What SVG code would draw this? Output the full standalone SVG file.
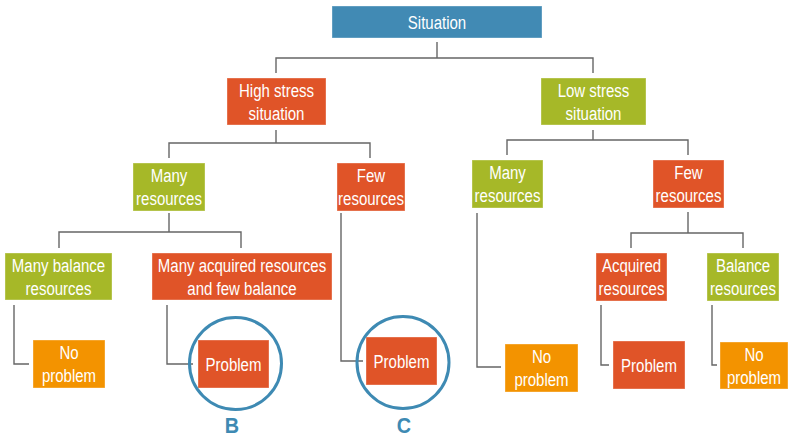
<svg xmlns="http://www.w3.org/2000/svg" width="788" height="437" viewBox="0 0 788 437">
<style>
text{font-family:"Liberation Sans",Arial,sans-serif;font-size:19px;fill:#ffffff;text-anchor:middle}
.blue{fill:#418ab4}
.red{fill:#e05428}
.green{fill:#a6b828}
.orange{fill:#f39300}
rect{stroke:#ffffff;stroke-opacity:0.35;stroke-width:1}
.conn path{fill:none;stroke:#666666;stroke-width:1.4}
.ring{fill:none;stroke:#3e8ab3;stroke-width:3}
text.lbl{fill:#3e8ab3;font-weight:bold;font-size:22px}
</style>
<g class="conn">
<path d="M437 42V58M276 73V58H593V73"/>
<path d="M276 130V143M169 158V143H370V158"/>
<path d="M593 130V140M507 155V140H688V155"/>
<path d="M169 213V232M59 248V232H241V248"/>
<path d="M14 305V364H29"/>
<path d="M167 305V364H193"/>
<path d="M341 213V361H363"/>
<path d="M477 213V367H501"/>
<path d="M688 212V233M631 248V233H743V248"/>
<path d="M601 305V365H609"/>
<path d="M712 305V365H717"/>
</g>
<g id="situation"><rect class="blue" x="332" y="6" width="210" height="32"/><text transform="translate(437 28.5) scale(0.79 1)">Situation</text></g>
<g id="high-stress"><rect class="red" x="227" y="78" width="99" height="47"/><text transform="translate(276.5 96.5) scale(0.79 1)">High stress</text><text transform="translate(276.5 119.5) scale(0.79 1)">situation</text></g>
<g id="low-stress"><rect class="green" x="541" y="78" width="105" height="47"/><text transform="translate(593.5 96.5) scale(0.79 1)">Low stress</text><text transform="translate(593.5 119.5) scale(0.79 1)">situation</text></g>
<g id="many-resources-left"><rect class="green" x="133" y="163" width="72" height="48"/><text transform="translate(169 181.5) scale(0.79 1)">Many</text><text transform="translate(169 204.5) scale(0.79 1)">resources</text></g>
<g id="few-resources-left"><rect class="red" x="337" y="163" width="68" height="48"/><text transform="translate(371 181.5) scale(0.79 1)">Few</text><text transform="translate(371 204.5) scale(0.79 1)">resources</text></g>
<g id="many-resources-right"><rect class="green" x="472" y="160" width="71" height="48"/><text transform="translate(507.5 178.5) scale(0.79 1)">Many</text><text transform="translate(507.5 201.5) scale(0.79 1)">resources</text></g>
<g id="few-resources-right"><rect class="red" x="653" y="160" width="71" height="48"/><text transform="translate(688.5 178.5) scale(0.79 1)">Few</text><text transform="translate(688.5 201.5) scale(0.79 1)">resources</text></g>
<g id="many-balance"><rect class="green" x="5" y="253" width="107" height="47"/><text transform="translate(58.5 271.5) scale(0.79 1)">Many balance</text><text transform="translate(58.5 294.5) scale(0.79 1)">resources</text></g>
<g id="many-acquired"><rect class="red" x="152" y="253" width="180" height="47"/><text transform="translate(242 271.5) scale(0.79 1)">Many acquired resources</text><text transform="translate(242 294.5) scale(0.79 1)">and few balance</text></g>
<g id="acquired"><rect class="red" x="596" y="253" width="71" height="48"/><text transform="translate(631.5 271.5) scale(0.79 1)">Acquired</text><text transform="translate(631.5 294.5) scale(0.79 1)">resources</text></g>
<g id="balance"><rect class="green" x="707" y="253" width="72" height="48"/><text transform="translate(743 271.5) scale(0.79 1)">Balance</text><text transform="translate(743 294.5) scale(0.79 1)">resources</text></g>
<g id="no-problem-1"><rect class="orange" x="33" y="340" width="72" height="48"/><text transform="translate(69 358.5) scale(0.79 1)">No</text><text transform="translate(69 381.5) scale(0.79 1)">problem</text></g>
<g id="problem-b"><rect class="red" x="198" y="340" width="71" height="48"/><text transform="translate(233.5 370.5) scale(0.79 1)">Problem</text><circle class="ring" cx="235.5" cy="363.5" r="46"/><text class="lbl" transform="translate(232 433) scale(0.9 1)">B</text></g>
<g id="problem-c"><rect class="red" x="366" y="337" width="71" height="48"/><text transform="translate(401.5 367.5) scale(0.79 1)">Problem</text><circle class="ring" cx="403" cy="362.5" r="46"/><text class="lbl" transform="translate(404 433) scale(0.9 1)">C</text></g>
<g id="no-problem-2"><rect class="orange" x="505" y="344" width="73" height="48"/><text transform="translate(541.5 362.5) scale(0.79 1)">No</text><text transform="translate(541.5 385.5) scale(0.79 1)">problem</text></g>
<g id="problem-3"><rect class="red" x="613" y="341" width="72" height="48"/><text transform="translate(649 371.5) scale(0.79 1)">Problem</text></g>
<g id="no-problem-3"><rect class="orange" x="720" y="342" width="68" height="47"/><text transform="translate(754 360.5) scale(0.79 1)">No</text><text transform="translate(754 383.5) scale(0.79 1)">problem</text></g>
</svg>
